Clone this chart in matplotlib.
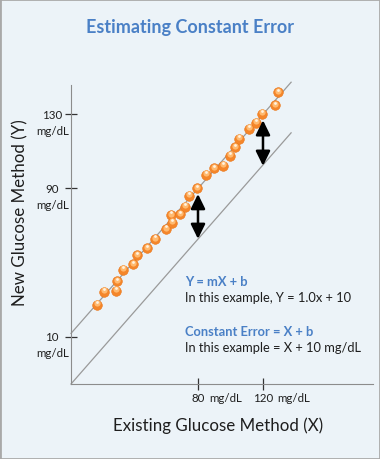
import matplotlib.pyplot as plt
from matplotlib.patches import Rectangle
from matplotlib.transforms import offset_copy

# data (in mg/dL)
existing_x = [18.0, 22.3, 29.5, 30.0, 34.0, 39.8, 42.6, 48.4, 53.5, 60.1, 63.8, 63.4, 68.9, 72.0,
              74.6, 79.6, 84.7, 90.0, 95.2, 99.7, 102.8, 105.4, 111.4, 115.7, 119.2, 127.4, 129.4]
new_y = [27.4, 34.4, 34.9, 40.0, 46.1, 49.1, 54.1, 57.8, 62.8, 68.2, 71.5, 75.7, 76.2, 80.1,
         86.1, 90.0, 97.4, 100.8, 102.2, 107.6, 112.1, 116.8, 122.3, 125.5, 130.4, 134.9, 142.0]

x_ticks = [80, 120]
y_ticks = [10, 90, 130]

# regression line Y = X + 10 and the reference line drawn below it
line_x = [1.85, 137.3]
slope = 1.0
intercept_fit = 10
intercept_ref = -17.3

# double arrows showing the constant offset
arrow_x = [80, 120]
arrow_lo = [62.8, 102.2]
arrow_hi = [87.0, 126.8]

bg = '#ECF3F8'
blue = '#4A80C6'
txt = '#1E1E1E'
plt.rcParams['font.family'] = ['Lato', 'DejaVu Sans']

fig = plt.figure(figsize=(3.8, 4.6), dpi=100)
fig.patch.set_facecolor(bg)
fig.patches.append(Rectangle((0, 0), 1, 1, transform=fig.transFigure, fill=False,
                             edgecolor='#A9A9A9', linewidth=2.0, zorder=10))

ax = fig.add_axes([71 / 380, 1 - 385 / 460, 302 / 380, 299 / 460])
ax.set_facecolor('none')
ax.set_xlim(1.85, 187.7)
ax.set_ylim(-15.45, 145.8)
for s in ['top', 'right']:
    ax.spines[s].set_visible(False)
for s in ['left', 'bottom']:
    ax.spines[s].set_color('#8C8C8C')
    ax.spines[s].set_linewidth(0.8)

ax.set_xticks(x_ticks)
ax.set_yticks(y_ticks)
ax.set_xticklabels([])
ax.set_yticklabels([])
ax.tick_params(direction='inout', length=8.6, width=0.9, color='#333333')

# lines
ax.plot(line_x, [slope * v + intercept_fit for v in line_x], color='#9A9A9A', lw=0.9,
        clip_on=False, zorder=2)
ax.plot(line_x, [slope * v + intercept_ref for v in line_x], color='#9A9A9A', lw=0.9,
        clip_on=False, zorder=2)

# orange "spheres"
ax.scatter(existing_x, new_y, s=48, color='#F5862A', edgecolors='#EA7416', linewidths=0.4,
           zorder=4, clip_on=False)
ax.scatter(existing_x, new_y, s=20, color='#FFBA70', linewidths=0, zorder=5, clip_on=False,
           transform=offset_copy(ax.transData, fig=fig, x=0, y=1.0, units='points'))
ax.scatter(existing_x, new_y, s=4, color='#FFF3E2', linewidths=0, zorder=6, clip_on=False,
           transform=offset_copy(ax.transData, fig=fig, x=0, y=1.8, units='points'))

for x, lo, hi in zip(arrow_x, arrow_lo, arrow_hi):
    ax.annotate('', xy=(x, hi), xytext=(x, lo),
                arrowprops=dict(arrowstyle='<|-|>,head_length=0.55,head_width=0.27', color='black',
                                lw=1.8, shrinkA=0, shrinkB=0, mutation_scale=16), zorder=7)

# tick labels
for v in y_ticks:
    ax.annotate(str(v), xy=(0, v), xycoords=('axes fraction', 'data'), xytext=(-13.5, 0),
                textcoords='offset points', ha='center', va='center', fontsize=8.3, color=txt)
    ax.annotate('mg/dL', xy=(0, v), xycoords=('axes fraction', 'data'), xytext=(-13.5, -11.5),
                textcoords='offset points', ha='center', va='center', fontsize=8.3, color=txt)
for v in x_ticks:
    num = ax.annotate(str(v), xy=(v, 0), xycoords=('data', 'axes fraction'), xytext=(0, -9.5),
                      textcoords='offset points', ha='center', va='center', fontsize=8.3, color=txt)
    ax.annotate('mg/dL', xy=(1, 0.5), xycoords=num, xytext=(3, 0), textcoords='offset points',
                ha='left', va='center', fontsize=8.3, color=txt)

fig.text(0.5, 1 - 27 / 460, 'Estimating Constant Error', ha='center', va='center',
         fontsize=13, fontweight='bold', color=blue)
fig.text(218 / 380, 1 - 426 / 460, 'Existing Glucose Method (X)', ha='center', va='center',
         fontsize=12.2, color=txt)
fig.text(20 / 380, 1 - 213 / 460, 'New Glucose Method (Y)', ha='center', va='center',
         rotation=90, fontsize=12.2, color=txt)

fig.text(185 / 380, 1 - 282 / 460, 'Y = mX + b', ha='left', va='center', fontsize=9.3,
         fontweight='bold', color=blue)
fig.text(185 / 380, 1 - 298 / 460, 'In this example, Y = 1.0x + 10', ha='left', va='center',
         fontsize=9.3, color=txt)
fig.text(185 / 380, 1 - 332 / 460, 'Constant Error = X + b', ha='left', va='center', fontsize=9.3,
         fontweight='bold', color=blue)
fig.text(185 / 380, 1 - 348 / 460, 'In this example = X + 10 mg/dL', ha='left', va='center',
         fontsize=9.3, color=txt)

fig.savefig('out.png', dpi=100, facecolor=bg)
